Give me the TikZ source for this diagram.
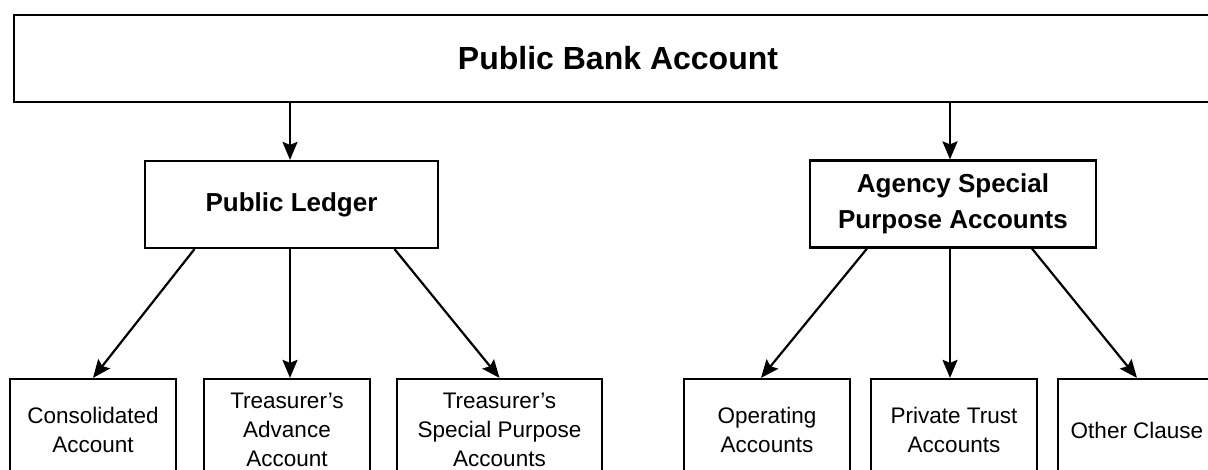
\documentclass[tikz,border=0pt]{standalone}
\usepackage{fontspec}
\setmainfont{Liberation Sans}
\usetikzlibrary{positioning,arrows.meta,calc}
\tikzstyle{arrow} = [line width=2.2pt,-{Stealth[length=18pt,width=15pt,inset=3pt]}]
\tikzstyle{topbox} = [draw,line width=2.2pt,inner sep=0pt,font=\fontsize{32}{38}\selectfont\bfseries]
\tikzstyle{midbox} = [draw,line width=2.2pt,inner sep=0pt,align=center,minimum height=87pt,font=\fontsize{26}{36.5}\selectfont\bfseries]
\tikzstyle{leafbox} = [draw,line width=2.2pt,inner sep=0pt,align=center,minimum height=102pt,font=\fontsize{22.5}{29}\selectfont]

\begin{document}
\begin{tikzpicture}[x=1pt,y=-1pt]
\useasboundingbox (0,0) rectangle (1208,470);
\clip (0,0) rectangle (1208,470);

\node[topbox,minimum width=1208pt,minimum height=87pt] (bank) at (618,58.5) {Public Bank Account};

\node[midbox,minimum width=293pt] (ledger) at (291.5,204.5) {Public Ledger};
\node[midbox,minimum width=286pt] (agency) at (953,204) {Agency Special\\Purpose Accounts};

% public ledger accounts
\node[leafbox,minimum width=166pt] (cons) at (93,430) {Consolidated\\Account};
\node[leafbox,minimum width=166pt] (adv) at (287,430) {Treasurer’s\\Advance\\Account};
\node[leafbox,minimum width=205pt] (tsp) at (499.5,430) {Treasurer’s\\Special Purpose\\Accounts};

% agency accounts
\node[leafbox,minimum width=166pt] (oper) at (767,430) {Operating\\Accounts};
\node[leafbox,minimum width=166pt] (trust) at (954,430) {Private Trust\\Accounts};
\node[leafbox,minimum width=158pt] (other) at (1137,430) {Other Clause};

\draw[arrow] (bank.south -| 290,0) -- (ledger.north -| 290,0);
\draw[arrow] (bank.south -| 950,0) -- (agency.north -| 950,0);

\draw[arrow] ([xshift=-97pt]ledger.south) -- (cons.north);
\draw[arrow] (ledger.south -| 290,0) -- (adv.north -| 290,0);
\draw[arrow] ([xshift=103pt]ledger.south) -- (tsp.north);

\draw[arrow] ([xshift=-86pt]agency.south) -- ([xshift=-6pt]oper.north);
\draw[arrow] (agency.south -| 950,0) -- (trust.north -| 950,0);
\draw[arrow] ([xshift=79pt]agency.south) -- (other.north);
\end{tikzpicture}
\end{document}
